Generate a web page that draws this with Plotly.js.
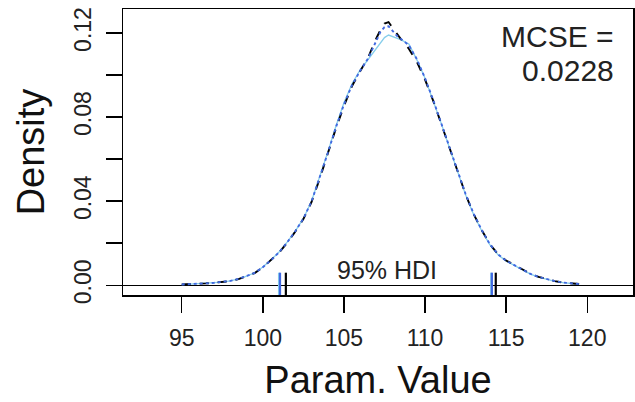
<!DOCTYPE html>
<html>
<head>
<meta charset="utf-8">
<script src="https://cdn.plot.ly/plotly-3.0.1.min.js"></script>
<style>html,body{margin:0;padding:0;background:#fff;}#chart{width:635px;height:402px;}</style>
</head>
<body>
<div id="chart"></div>
<script>
// Parameter values (x grid of the density curves)
const paramValue = [95, 95.5, 96, 96.5, 97, 97.5, 98, 98.5, 99, 99.5, 100, 100.5, 101, 101.5, 102, 102.5, 103, 103.5, 104, 104.5, 105, 105.5, 106, 106.5, 107, 107.25, 107.5, 107.75, 108, 108.25, 108.5, 109, 109.5, 110, 110.5, 111, 111.5, 112, 112.5, 113, 113.5, 114, 114.5, 115, 115.5, 116, 116.5, 117, 117.5, 118, 118.5, 119, 119.5];

// Chain 1 (skyblue, solid)
const densChain1 = [0.0003, 0.0005, 0.0006, 0.0008, 0.0011, 0.0015, 0.0021, 0.0030, 0.0043, 0.0060, 0.0087, 0.0120, 0.0158, 0.0205, 0.0258, 0.0318, 0.0400, 0.0512, 0.0632, 0.0755, 0.0868, 0.0958, 0.1025, 0.1075, 0.1125, 0.1155, 0.1178, 0.1190, 0.1182, 0.1175, 0.1168, 0.1148, 0.1072, 0.0985, 0.0880, 0.0770, 0.0655, 0.0540, 0.0430, 0.0335, 0.0258, 0.0192, 0.0145, 0.0115, 0.0093, 0.0072, 0.0053, 0.0039, 0.0028, 0.0019, 0.0013, 0.0008, 0.0005];

// Chain 2 (black, dashed)
const densChain2 = [0.0004, 0.0005, 0.0007, 0.0009, 0.0012, 0.0015, 0.0020, 0.0029, 0.0042, 0.0058, 0.0085, 0.0118, 0.0155, 0.0202, 0.0255, 0.0315, 0.0395, 0.0505, 0.0625, 0.0745, 0.0852, 0.0948, 0.1018, 0.1085, 0.1175, 0.1215, 0.1245, 0.1252, 0.1225, 0.1198, 0.1172, 0.1125, 0.1062, 0.0978, 0.0878, 0.0768, 0.0655, 0.0542, 0.0432, 0.0338, 0.0262, 0.0195, 0.0148, 0.0118, 0.0096, 0.0074, 0.0055, 0.0040, 0.0029, 0.0020, 0.0013, 0.0009, 0.0006];

// Chain 3 (royalblue, dotted)
const densChain3 = [0.0004, 0.0005, 0.0007, 0.0009, 0.0012, 0.0016, 0.0021, 0.0030, 0.0043, 0.0059, 0.0086, 0.0119, 0.0157, 0.0204, 0.0257, 0.0317, 0.0398, 0.0508, 0.0628, 0.0750, 0.0860, 0.0952, 0.1020, 0.1080, 0.1165, 0.1205, 0.1228, 0.1232, 0.1210, 0.1188, 0.1172, 0.1142, 0.1075, 0.0985, 0.0882, 0.0772, 0.0658, 0.0545, 0.0434, 0.0340, 0.0262, 0.0195, 0.0147, 0.0117, 0.0095, 0.0073, 0.0054, 0.0040, 0.0029, 0.0020, 0.0013, 0.0009, 0.0006];

// 95% HDI limits per chain [low, high]
const hdiLow  = [101.00, 101.42, 101.06];
const hdiHigh = [114.08, 114.36, 114.12];

const chainNames  = ["Chain 1", "Chain 2", "Chain 3"];
const chainColors = ["#87CEEB", "#000000", "#4169E1"];
const chainDashes = ["solid", "dash", "dot"];

// Axis ticks
const xTickVals = [95, 100, 105, 110, 115, 120];
const xTickText = ["95", "100", "105", "110", "115", "120"];
const yTickVals = [0, 0.02, 0.04, 0.06, 0.08, 0.10, 0.12];
const yTickText = ["0.00", "", "0.04", "", "0.08", "", "0.12"];

const mcseLabel = "MCSE =";
const mcseValue = "0.0228";
const hdiLabel = "95% HDI";

const FONT = "Liberation Sans, Arial, sans-serif";

const dens = [densChain1, densChain2, densChain3];
const traces = [];
for (let c = 0; c < 3; c++) {
  traces.push({
    x: paramValue, y: dens[c], type: "scatter", mode: "lines", name: chainNames[c],
    line: {color: chainColors[c], dash: chainDashes[c], width: c === 0 ? 1.3 : 1.9},
    hoverinfo: "skip"
  });
}
for (let c = 0; c < 3; c++) {
  traces.push({
    x: [hdiLow[c], hdiHigh[c]], y: [0, 0], type: "scatter", mode: "markers",
    marker: {symbol: "line-ns", size: 18, line: {color: chainColors[c], width: 2.2}},
    hoverinfo: "skip"
  });
}

const hdiMid = (hdiLow.reduce((a,b)=>a+b,0) + hdiHigh.reduce((a,b)=>a+b,0)) / 6;

const layout = {
  width: 635, height: 402,
  margin: {l: 123, r: 2, t: 9, b: 107, pad: 0},
  paper_bgcolor: "#ffffff", plot_bgcolor: "#ffffff",
  showlegend: false,
  font: {family: FONT, color: "#111"},
  xaxis: {
    range: [91.38, 122.82], showgrid: false, zeroline: false,
    showline: true, mirror: true, linecolor: "#000", linewidth: 1.5,
    tickmode: "array", tickvals: xTickVals, ticktext: xTickText,
    ticks: "outside", ticklen: 16, tickwidth: 1.5, tickcolor: "#000",
    ticklabelstandoff: 6,
    tickfont: {family: FONT, size: 23, color: "#222"},
    title: {text: "Param. Value", font: {family: FONT, size: 38, color: "#111"}, standoff: 16}
  },
  yaxis: {
    range: [-0.00462, 0.1314], showgrid: false,
    zeroline: true, zerolinecolor: "#000", zerolinewidth: 1.5,
    showline: true, mirror: true, linecolor: "#000", linewidth: 1.5,
    tickmode: "array", tickvals: yTickVals, ticktext: yTickText,
    ticks: "outside", ticklen: 16, tickwidth: 1.5, tickcolor: "#000",
    tickangle: -90, ticklabelstandoff: 5,
    tickfont: {family: FONT, size: 23, color: "#222"},
    title: {text: "Density", font: {family: FONT, size: 38, color: "#111"}, standoff: 14}
  },
  annotations: [
    {x: 121.75, y: 0.1185, xref: "x", yref: "y", text: mcseLabel, showarrow: false,
     xanchor: "right", yanchor: "middle", font: {family: FONT, size: 30, color: "#222"}},
    {x: 121.75, y: 0.1020, xref: "x", yref: "y", text: mcseValue, showarrow: false,
     xanchor: "right", yanchor: "middle", font: {family: FONT, size: 30, color: "#222"}},
    {x: hdiMid, y: 0, xref: "x", yref: "y", text: hdiLabel, showarrow: false,
     xanchor: "center", yanchor: "bottom", yshift: -1, font: {family: FONT, size: 25, color: "#222"}}
  ]
};

Plotly.newPlot("chart", traces, layout, {staticPlot: true, displayModeBar: false});
</script>
</body>
</html>
